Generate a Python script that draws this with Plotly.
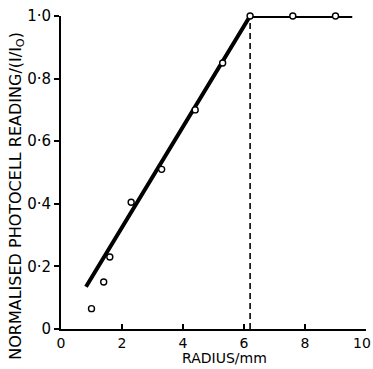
import plotly.graph_objects as go

# Measured points
radius = [1.0, 1.4, 1.6, 2.3, 3.3, 4.4, 5.3, 6.2, 7.6, 9.0]
reading = [0.065, 0.15, 0.23, 0.405, 0.51, 0.70, 0.85, 1.0, 1.0, 1.0]

# Fitted line
fit_x = [0.82, 6.2, 9.55]
fit_y = [0.135, 1.0, 1.0]

# Dashed marker line
cut_x = [6.2, 6.2]
cut_y = [0.0, 1.0]

x_ticks = [0, 2, 4, 6, 8, 10]
x_ticktext = ["0", "2", "4", "6", "8", ""]
x_last_label = "10"
y_ticks = [0, 0.2, 0.4, 0.6, 0.8, 1.0]
y_ticktext = ["0", "0·2", "0·4", "0·6", "0·8", "1·0"]

font = "DejaVu Sans, Arial, sans-serif"

fig = go.Figure()
fig.add_trace(go.Scatter(x=cut_x, y=cut_y, mode="lines",
                         line=dict(color="black", width=1.6, dash="6px,4px"),
                         hoverinfo="skip", showlegend=False))
fig.add_trace(go.Scatter(x=fit_x, y=fit_y, mode="lines",
                         line=dict(color="black", width=4),
                         showlegend=False, cliponaxis=False))
fig.add_trace(go.Scatter(x=radius, y=reading, mode="markers",
                         marker=dict(symbol="circle", size=6, color="white",
                                     line=dict(color="black", width=1.4)),
                         showlegend=False, cliponaxis=False))

fig.update_layout(
    width=373, height=369,
    margin=dict(l=61, r=7, t=13, b=40),
    paper_bgcolor="white", plot_bgcolor="white",
    font=dict(family=font, color="black", size=15),
    xaxis=dict(range=[0, 10], tickvals=x_ticks, ticktext=x_ticktext,
               ticks="inside", ticklen=5, tickwidth=1.5, tickcolor="black",
               showline=True, linecolor="black", linewidth=2,
               showgrid=False, zeroline=False, tickfont=dict(size=14)),
    yaxis=dict(range=[0, 1.0], tickvals=y_ticks, ticktext=y_ticktext,
               ticks="outside", ticklen=5, tickwidth=1.5, tickcolor="black",
               showline=True, linecolor="black", linewidth=2,
               showgrid=False, zeroline=False, tickfont=dict(size=15)),
    annotations=[
        dict(text=x_last_label, x=1 + 7 / 305, y=-0.012, xref="paper", yref="paper",
             showarrow=False, xanchor="right", yanchor="top",
             font=dict(size=14)),
        dict(text="RADIUS/mm", x=0.535, y=-0.1235, xref="paper", yref="paper",
             showarrow=False, yanchor="bottom", font=dict(size=14)),
        dict(text="NORMALISED PHOTOCELL READING/(I/I<sub>O</sub>)",
             x=-0.145, y=0.425, xref="paper", yref="paper", textangle=-90,
             showarrow=False, xanchor="center", font=dict(size=16)),
    ],
)

fig.write_html("out.html")
